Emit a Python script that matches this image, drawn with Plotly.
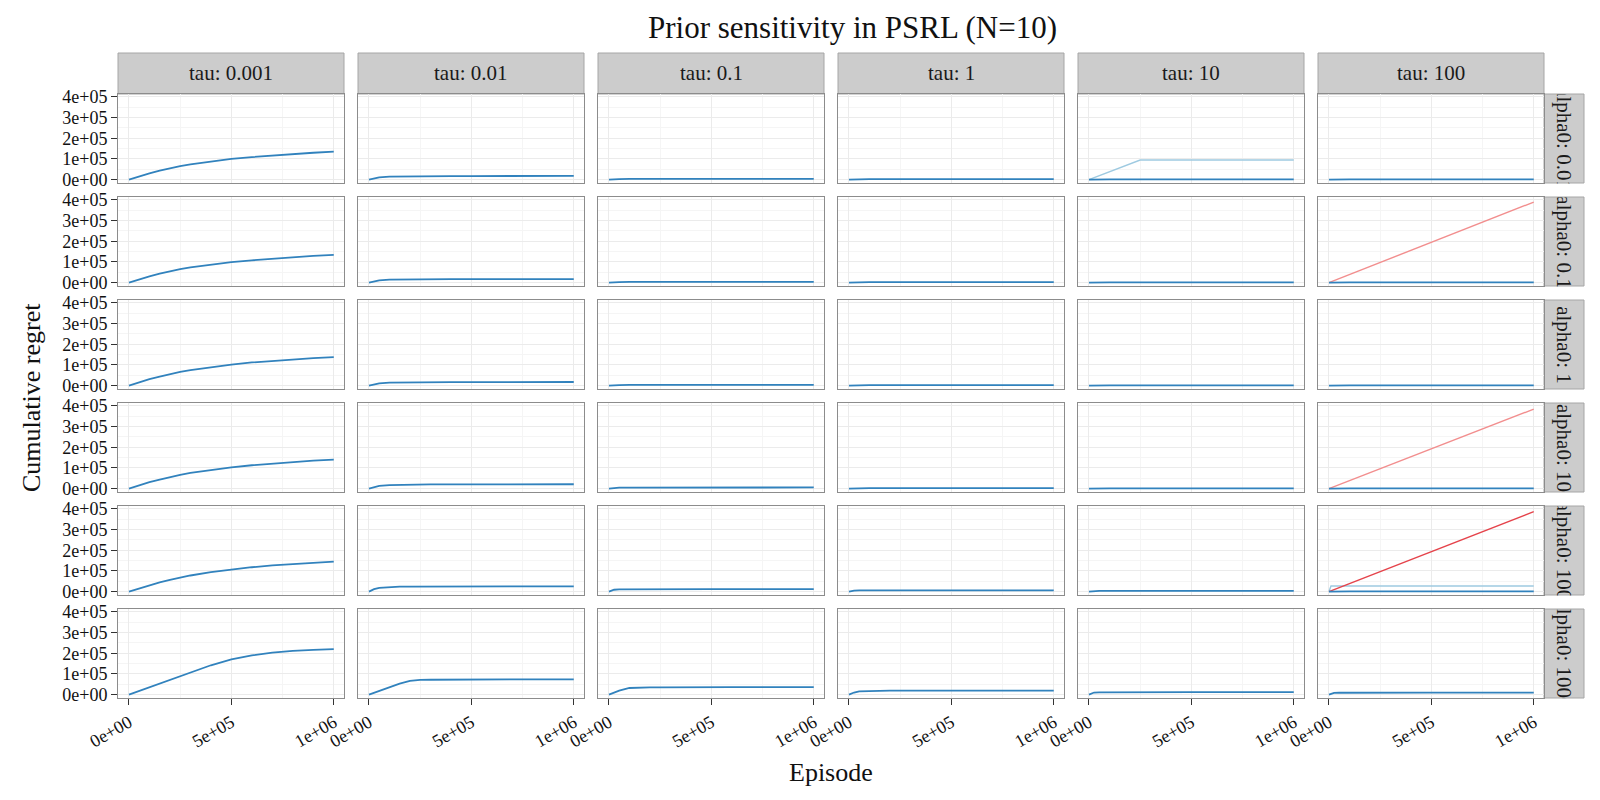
"""Prior sensitivity in PSRL: 6x6 facet grid of cumulative regret curves."""
import plotly.graph_objects as go

FONT = 'Liberation Serif'
PAGE_PAD = 8                      # default body margin of the html page
W, H = 1600 - 2 * PAGE_PAD, 800 - 2 * PAGE_PAD

TAUS = ['0.001', '0.01', '0.1', '1', '10', '100']
ALPHAS = ['0.01', '0.1', '1', '10', '100', '1000']

EPISODE = [0, 25000, 50000, 100000, 150000, 200000, 250000, 300000,
           400000, 500000, 600000, 700000, 800000, 900000, 1000000]

# cumulative regret in units of 1e5, one list per alpha0 row
TAU_0001 = [
    [0, 0.08, 0.16, 0.30, 0.43, 0.55, 0.65, 0.74, 0.88, 1.00, 1.09, 1.17, 1.24, 1.30, 1.35],
    [0, 0.08, 0.16, 0.30, 0.43, 0.55, 0.65, 0.74, 0.88, 0.99, 1.08, 1.16, 1.23, 1.29, 1.34],
    [0, 0.08, 0.16, 0.31, 0.44, 0.56, 0.66, 0.75, 0.90, 1.02, 1.12, 1.20, 1.27, 1.33, 1.38],
    [0, 0.08, 0.16, 0.31, 0.44, 0.56, 0.67, 0.76, 0.91, 1.03, 1.13, 1.21, 1.29, 1.35, 1.40],
    [0, 0.08, 0.16, 0.31, 0.45, 0.57, 0.68, 0.78, 0.94, 1.07, 1.18, 1.27, 1.34, 1.40, 1.45],
    [0, 0.09, 0.18, 0.36, 0.54, 0.72, 0.90, 1.08, 1.42, 1.70, 1.90, 2.03, 2.12, 2.17, 2.20],
]
TAU_001 = [
    [0, 0.07, 0.11, 0.145, 0.155, 0.16, 0.165, 0.165, 0.17, 0.17, 0.175, 0.175, 0.18, 0.18, 0.18],
    [0, 0.07, 0.11, 0.14, 0.15, 0.155, 0.16, 0.16, 0.165, 0.165, 0.17, 0.17, 0.17, 0.17, 0.17],
    [0, 0.07, 0.11, 0.145, 0.155, 0.16, 0.165, 0.165, 0.17, 0.17, 0.17, 0.175, 0.175, 0.175, 0.175],
    [0, 0.08, 0.13, 0.17, 0.185, 0.19, 0.195, 0.20, 0.20, 0.205, 0.205, 0.21, 0.21, 0.21, 0.21],
    [0, 0.12, 0.18, 0.225, 0.24, 0.245, 0.245, 0.25, 0.25, 0.25, 0.25, 0.25, 0.25, 0.25, 0.25],
    [0, 0.09, 0.18, 0.36, 0.53, 0.66, 0.71, 0.72, 0.73, 0.73, 0.735, 0.74, 0.74, 0.74, 0.74],
]
TAU_01 = [
    [0, 0.02, 0.025, 0.03, 0.03, 0.03, 0.03, 0.03, 0.03, 0.03, 0.03, 0.03, 0.03, 0.03, 0.03],
    [0, 0.02, 0.025, 0.03, 0.03, 0.03, 0.03, 0.03, 0.03, 0.03, 0.03, 0.03, 0.03, 0.03, 0.03],
    [0, 0.02, 0.025, 0.03, 0.03, 0.03, 0.03, 0.03, 0.03, 0.03, 0.03, 0.03, 0.03, 0.03, 0.03],
    [0, 0.035, 0.045, 0.05, 0.05, 0.05, 0.05, 0.05, 0.055, 0.055, 0.055, 0.055, 0.055, 0.055, 0.055],
    [0, 0.09, 0.105, 0.11, 0.11, 0.11, 0.11, 0.11, 0.115, 0.115, 0.115, 0.115, 0.115, 0.115, 0.115],
    [0, 0.10, 0.19, 0.32, 0.345, 0.35, 0.35, 0.355, 0.355, 0.36, 0.36, 0.36, 0.36, 0.36, 0.36],
]
TAU_1 = [
    [0, 0.01, 0.015, 0.02, 0.02, 0.02, 0.02, 0.02, 0.02, 0.02, 0.02, 0.02, 0.02, 0.02, 0.02],
    [0, 0.01, 0.015, 0.02, 0.02, 0.02, 0.02, 0.02, 0.02, 0.02, 0.02, 0.02, 0.02, 0.02, 0.02],
    [0, 0.01, 0.015, 0.02, 0.02, 0.02, 0.02, 0.02, 0.02, 0.02, 0.02, 0.02, 0.02, 0.02, 0.02],
    [0, 0.01, 0.015, 0.02, 0.02, 0.02, 0.02, 0.02, 0.02, 0.02, 0.02, 0.02, 0.02, 0.02, 0.02],
    [0, 0.05, 0.055, 0.06, 0.06, 0.06, 0.06, 0.06, 0.06, 0.06, 0.06, 0.06, 0.06, 0.06, 0.06],
    [0, 0.10, 0.16, 0.18, 0.185, 0.19, 0.19, 0.19, 0.19, 0.19, 0.19, 0.19, 0.19, 0.19, 0.19],
]
TAU_10 = [
    [0, 0.01, 0.01, 0.01, 0.01, 0.01, 0.01, 0.01, 0.01, 0.01, 0.01, 0.01, 0.01, 0.01, 0.01],
    [0, 0.01, 0.01, 0.01, 0.01, 0.01, 0.01, 0.01, 0.01, 0.01, 0.01, 0.01, 0.01, 0.01, 0.01],
    [0, 0.01, 0.01, 0.01, 0.01, 0.01, 0.01, 0.01, 0.01, 0.01, 0.01, 0.01, 0.01, 0.01, 0.01],
    [0, 0.01, 0.01, 0.01, 0.01, 0.01, 0.01, 0.01, 0.01, 0.01, 0.01, 0.01, 0.01, 0.01, 0.01],
    [0, 0.025, 0.03, 0.03, 0.03, 0.03, 0.03, 0.03, 0.03, 0.03, 0.03, 0.03, 0.03, 0.03, 0.03],
    [0, 0.10, 0.11, 0.115, 0.12, 0.12, 0.12, 0.12, 0.12, 0.12, 0.12, 0.12, 0.12, 0.12, 0.12],
]
TAU_100 = [
    [0, 0.01, 0.01, 0.01, 0.01, 0.01, 0.01, 0.01, 0.01, 0.01, 0.01, 0.01, 0.01, 0.01, 0.01],
    [0, 0.01, 0.01, 0.01, 0.01, 0.01, 0.01, 0.01, 0.01, 0.01, 0.01, 0.01, 0.01, 0.01, 0.01],
    [0, 0.01, 0.01, 0.01, 0.01, 0.01, 0.01, 0.01, 0.01, 0.01, 0.01, 0.01, 0.01, 0.01, 0.01],
    [0, 0.01, 0.01, 0.01, 0.01, 0.01, 0.01, 0.01, 0.01, 0.01, 0.01, 0.01, 0.01, 0.01, 0.01],
    [0, 0.01, 0.01, 0.01, 0.01, 0.01, 0.01, 0.01, 0.01, 0.01, 0.01, 0.01, 0.01, 0.01, 0.01],
    [0, 0.08, 0.09, 0.095, 0.10, 0.10, 0.10, 0.10, 0.10, 0.10, 0.10, 0.10, 0.10, 0.10, 0.10],
]
COLUMNS = [TAU_0001, TAU_001, TAU_01, TAU_1, TAU_10, TAU_100]

# extra (diverging) runs
EXTRA_X_KINK = [0, 250000, 1000000]
EXTRA_Y_KINK = [0, 0.95, 0.95]
EXTRA_X_LIN = [0, 1000000]
EXTRA_Y_A01 = [0, 3.90]
EXTRA_Y_A10 = [0, 3.85]
EXTRA_Y_A100 = [0, 3.87]
EXTRA_X_STEP = [0, 10000, 1000000]
EXTRA_Y_STEP = [0, 0.27, 0.27]

BLUE = '#3182bd'
LIGHT_BLUE = '#9ecae1'
PINK = '#f28e8e'
RED = '#e5434b'

# (row, col, episodes, regret/1e5, colour)
EXTRAS = [
    (0, 4, EXTRA_X_KINK, EXTRA_Y_KINK, LIGHT_BLUE),
    (1, 5, EXTRA_X_LIN, EXTRA_Y_A01, PINK),
    (3, 5, EXTRA_X_LIN, EXTRA_Y_A10, PINK),
    (4, 5, EXTRA_X_STEP, EXTRA_Y_STEP, LIGHT_BLUE),
    (4, 5, EXTRA_X_LIN, EXTRA_Y_A100, RED),
]

X_TICKS = [0, 500000, 1000000]
X_TICKTEXT = ['0e+00', '5e+05', '1e+06']
Y_TICKS = [0, 100000, 200000, 300000, 400000]
Y_TICKTEXT = ['0e+00', '1e+05', '2e+05', '3e+05', '4e+05']

# panel geometry in page pixels
COL_L = [118, 358, 598, 838, 1078, 1318]
PANEL_W = 226
ROW_T = [94, 197, 300, 403, 506, 609]
PANEL_H = 89
STRIP_TOP = 53
STRIP_R = 1584


def px(x):
    return (x - PAGE_PAD) / W


def py(y):
    return 1 - (y - PAGE_PAD) / H


fig = go.Figure()
layout = {}
shapes = []
annotations = []

for r in range(6):
    for c in range(6):
        n = r * 6 + c + 1
        xa = 'x' if n == 1 else f'x{n}'
        ya = 'y' if n == 1 else f'y{n}'
        traces = [(ex, ey, col) for (er, ec, ex, ey, col) in EXTRAS if er == r and ec == c]
        traces.append((EPISODE, COLUMNS[c][r], BLUE))
        for ex, ey, col in traces:
            fig.add_trace(go.Scatter(
                x=ex, y=[v * 1e5 for v in ey], mode='lines',
                line=dict(color=col, width=1.8 if col == BLUE else 1.4),
                xaxis=xa, yaxis=ya, showlegend=False, hoverinfo='skip'
            ))
        x0 = COL_L[c]
        y0 = ROW_T[r]
        bottom = r == 5
        left = c == 0
        layout['xaxis' if n == 1 else f'xaxis{n}'] = dict(
            domain=[px(x0), px(x0 + PANEL_W)], anchor=ya,
            range=[-53500, 1050000],
            tickvals=X_TICKS, ticktext=X_TICKTEXT,
            showticklabels=bottom, ticks='outside' if bottom else '',
            ticklen=6, tickcolor='#333333', tickangle=-30,
            tickfont=dict(family=FONT, size=18, color='#111111'),
            showgrid=True, gridcolor='#ebebeb', gridwidth=1,
            minor=dict(tickvals=[250000, 750000], showgrid=True, gridcolor='#f5f5f5', ticks=''),
            zeroline=False, showline=True, mirror=True, linecolor='#8c8c8c', linewidth=1,
        )
        layout['yaxis' if n == 1 else f'yaxis{n}'] = dict(
            domain=[py(y0 + PANEL_H), py(y0)], anchor=xa,
            range=[-16500, 414500],
            tickvals=Y_TICKS, ticktext=Y_TICKTEXT,
            showticklabels=left, ticks='outside' if left else '',
            ticklen=6, tickcolor='#333333',
            tickfont=dict(family=FONT, size=18, color='#111111'),
            showgrid=True, gridcolor='#ebebeb', gridwidth=1,
            minor=dict(tickvals=[50000, 150000, 250000, 350000], showgrid=True,
                       gridcolor='#f5f5f5', ticks=''),
            zeroline=False, showline=True, mirror=True, linecolor='#8c8c8c', linewidth=1,
        )

# column strips
for c, tau in enumerate(TAUS):
    x0 = COL_L[c]
    shapes.append(dict(type='rect', xref='paper', yref='paper',
                       x0=px(x0), x1=px(x0 + PANEL_W),
                       y0=py(ROW_T[0]), y1=py(STRIP_TOP),
                       fillcolor='#cccccc', line=dict(color='#a6a6a6', width=1), layer='below'))
    annotations.append(dict(text=f'tau: {tau}', xref='paper', yref='paper',
                            x=px(x0 + PANEL_W / 2), y=py((STRIP_TOP + ROW_T[0]) / 2),
                            xanchor='center', yanchor='middle',
                            showarrow=False, font=dict(family=FONT, size=21, color='#1a1a1a')))

# row strips (text clipped like the original)
right = COL_L[-1] + PANEL_W
for r, a in enumerate(ALPHAS):
    y0 = ROW_T[r]
    shapes.append(dict(type='rect', xref='paper', yref='paper',
                       x0=px(right), x1=px(STRIP_R),
                       y0=py(y0 + PANEL_H), y1=py(y0),
                       fillcolor='#cccccc', line=dict(color='#a6a6a6', width=1), layer='below'))
    annotations.append(dict(text=f'alpha0: {a}', xref='paper', yref='paper',
                            x=px((right + STRIP_R) / 2), y=py(y0 + PANEL_H / 2),
                            xanchor='center', yanchor='middle',
                            textangle=90, width=PANEL_H, height=STRIP_R - right,
                            showarrow=False, font=dict(family=FONT, size=21, color='#1a1a1a')))

annotations += [
    dict(text='Prior sensitivity in PSRL (N=10)', xref='paper', yref='paper',
         x=px(852), y=py(27), xanchor='center', yanchor='middle', showarrow=False,
         font=dict(family=FONT, size=31, color='#111111')),
    dict(text='Episode', xref='paper', yref='paper',
         x=px(831), y=py(772), xanchor='center', yanchor='middle', showarrow=False,
         font=dict(family=FONT, size=26, color='#111111')),
    dict(text='Cumulative regret', xref='paper', yref='paper',
         x=px(31), y=py(398), xanchor='center', yanchor='middle',
         showarrow=False, textangle=-90,
         font=dict(family=FONT, size=26, color='#111111')),
]

fig.update_layout(
    **layout,
    shapes=shapes, annotations=annotations,
    width=W, height=H,
    margin=dict(l=0, r=0, t=0, b=0, autoexpand=False),
    plot_bgcolor='white', paper_bgcolor='white',
    showlegend=False,
    font=dict(family=FONT),
)
fig.write_html('out.html')
